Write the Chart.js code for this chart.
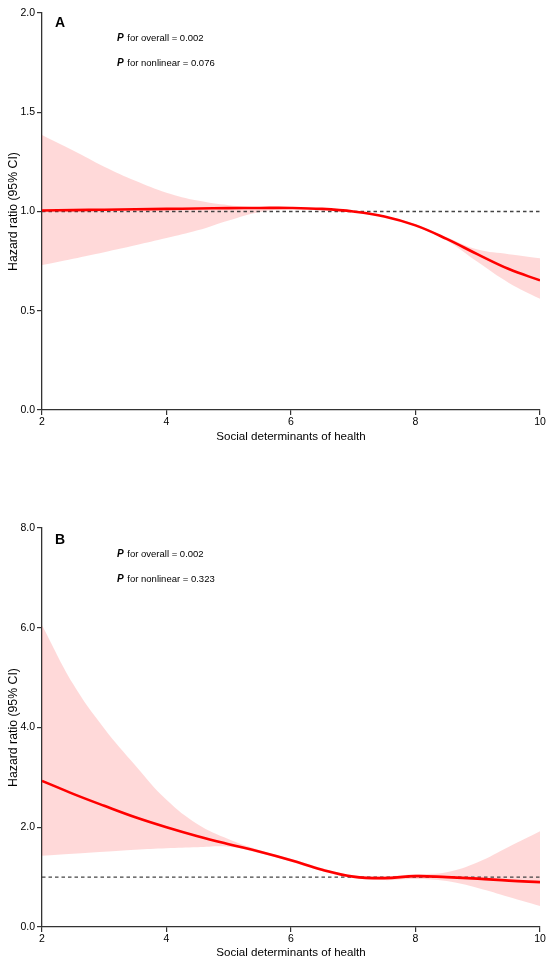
<!DOCTYPE html>
<html><head><meta charset="utf-8">
<script src="https://cdn.jsdelivr.net/npm/chart.js@4.4.1/dist/chart.umd.min.js"></script>
<style>
html,body{margin:0;padding:0;background:#fff;width:550px;height:961px;overflow:hidden}
.wrap{position:absolute;left:0;width:550px}
</style></head><body>
<div class="wrap" style="top:0;height:450px"><canvas id="ca"></canvas></div>
<div class="wrap" style="top:470px;height:491px"><canvas id="cb"></canvas></div>
<script>
// ---- data ----
const xValues = [2, 2.5, 3, 3.5, 4, 4.5, 5, 5.5, 6, 6.5, 7, 7.5, 8, 8.5, 9, 9.5, 10];
const hrA    = [1.005,1.007,1.009,1.011,1.013,1.015,1.017,1.018,1.018,1.013,1.000,0.975,0.930,0.862,0.784,0.710,0.653];
const upperA = [1.385,1.307,1.226,1.155,1.095,1.055,1.032,1.022,1.021,1.016,1.003,0.979,0.936,0.870,0.808,0.785,0.765];
const lowerA = [0.730,0.762,0.795,0.830,0.866,0.905,0.955,0.998,1.013,1.009,0.997,0.971,0.924,0.854,0.745,0.640,0.560];
const hrB    = [2.93,2.67,2.43,2.20,2.00,1.82,1.66,1.51,1.34,1.15,1.01,0.98,1.02,1.00,0.97,0.93,0.90];
const upperB = [6.05,4.87,3.98,3.24,2.55,2.06,1.76,1.54,1.37,1.18,1.04,1.02,1.06,1.10,1.30,1.61,1.92];
const lowerB = [1.43,1.47,1.51,1.55,1.58,1.60,1.61,1.48,1.31,1.12,0.98,0.94,0.96,0.92,0.78,0.60,0.42];
const refValue = 1;
const xTicks = [2, 4, 6, 8, 10];
const yTicksA = [0, 0.5, 1.0, 1.5, 2.0];
const yTicksB = [0, 2, 4, 6, 8];
const xTitle = 'Social determinants of health';
const yTitle = 'Hazard ratio (95% CI)';
const notesA = {letter: 'A', overall: ' for overall = 0.002', nonlinear: ' for nonlinear = 0.076'};
const notesB = {letter: 'B', overall: ' for overall = 0.002', nonlinear: ' for nonlinear = 0.323'};

const FONT = '"Liberation Sans", Arial, sans-serif';
const pts = arr => xValues.map((x, i) => ({x, y: arr[i]}));

const notesPlugin = {
  id: 'notes',
  afterDraw(chart, args, o) {
    const ctx = chart.ctx, a = chart.chartArea;
    ctx.save();
    ctx.fillStyle = '#000';
    ctx.textBaseline = 'middle';
    ctx.textAlign = 'left';
    ctx.font = 'bold 14px ' + FONT;
    ctx.fillText(o.letter, a.left + 13, a.top + o.dy[0]);
    const lines = [o.overall, o.nonlinear];
    lines.forEach((t, i) => {
      const y = a.top + o.dy[i + 1];
      ctx.font = 'italic bold 10px ' + FONT;
      ctx.fillText('P', a.left + 75, y);
      const w = ctx.measureText('P').width;
      ctx.font = '9.5px ' + FONT;
      ctx.fillText(t, a.left + 75 + w + 1, y);
    });
    ctx.restore();
  }
};

function makeChart(id, hr, up, lo, yTicks, yMax, padTop, xH, notes, dy, xTitlePad) {
  return new Chart(document.getElementById(id), {
    type: 'line',
    data: {
      datasets: [
        {data: pts(up), borderWidth: 0, pointRadius: 0, fill: '+1',
         backgroundColor: 'rgba(255,0,0,0.15)', borderColor: 'rgba(0,0,0,0)', tension: 0.4, order: 2},
        {data: pts(lo), borderWidth: 0, pointRadius: 0, fill: false,
         borderColor: 'rgba(0,0,0,0)', tension: 0.4, order: 3},
        {data: [{x: xTicks[0], y: refValue}, {x: xTicks[xTicks.length - 1], y: refValue}],
         borderColor: '#444', borderWidth: 1.4, borderDash: [3.5, 3], pointRadius: 0, fill: false, order: 1},
        {data: pts(hr), borderColor: '#ff0000', borderWidth: 2.6, pointRadius: 0, fill: false,
         tension: 0.4, order: 0}
      ]
    },
    options: {
      responsive: true, maintainAspectRatio: false, animation: false,
      layout: {padding: {top: padTop, right: 10, left: 0, bottom: 0}},
      plugins: {legend: {display: false}, tooltip: {enabled: false}, notes: Object.assign({dy}, notes)},
      scales: {
        x: {
          type: 'linear', min: 2, max: 10,
          afterBuildTicks: s => { s.ticks = xTicks.map(v => ({value: v})); },
          afterFit: s => { s.height = xH; },
          border: {display: true, color: '#333', width: 1.3},
          grid: {display: true, drawOnChartArea: false, drawTicks: true, tickLength: 5, color: '#333', lineWidth: 1.2},
          ticks: {color: '#000', font: {family: FONT, size: 10.5}, padding: 1, maxRotation: 0},
          title: {display: true, text: xTitle, color: '#000', font: {family: FONT, size: 11.6}, padding: {top: 0, bottom: xTitlePad}}
        },
        y: {
          type: 'linear', min: 0, max: yMax,
          afterBuildTicks: s => { s.ticks = yTicks.map(v => ({value: v})); },
          afterFit: s => { s.width = 42; },
          border: {display: true, color: '#333', width: 1.3},
          grid: {display: true, drawOnChartArea: false, drawTicks: true, tickLength: 5, color: '#333', lineWidth: 1.2},
          ticks: {color: '#000', font: {family: FONT, size: 10.5}, padding: 2, callback: v => Number(v).toFixed(1)},
          title: {display: true, text: yTitle, color: '#000', font: {family: FONT, size: 12.3}, padding: {top: 6, bottom: 0}}
        }
      }
    },
    plugins: [notesPlugin]
  });
}

makeChart('ca', hrA, upperA, lowerA, yTicksA, 2.0, 13, 40, notesA, [10, 25, 50], 6.3);
makeChart('cb', hrB, upperB, lowerB, yTicksB, 8.0, 58, 34, notesB, [12, 26, 51], 1.6);
</script>
</body></html>
